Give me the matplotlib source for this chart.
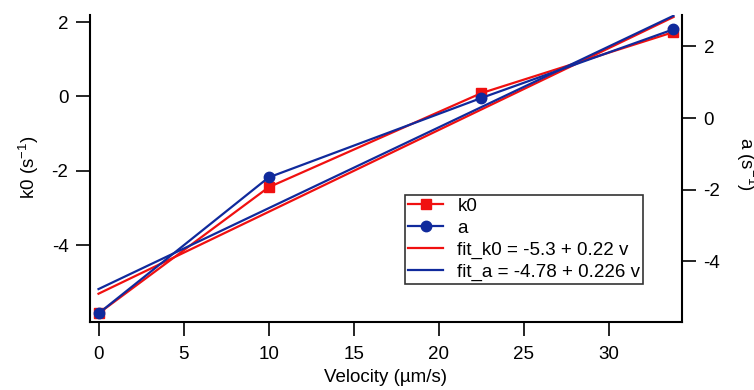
import matplotlib
matplotlib.use("Agg")
import matplotlib.pyplot as plt
import numpy as np

plt.rcParams['font.family'] = ['Liberation Sans', 'DejaVu Sans']
plt.rcParams['mathtext.fontset'] = 'custom'
plt.rcParams['mathtext.rm'] = 'Liberation Sans'
plt.rcParams['mathtext.default'] = 'regular'
plt.rcParams['axes.unicode_minus'] = False

# data
velocity = [0, 10, 22.5, 33.8]
k0 = [-5.83, -2.44, 0.09, 1.73]
a = [-5.46, -1.66, 0.56, 2.48]

fit_k0_coef = (-5.3, 0.22)
fit_a_coef = (-4.78, 0.226)

red = '#f01010'
blue = '#102a9c'
fs = 13.5

fig = plt.figure(figsize=(7.54, 3.9), dpi=100)
ax = fig.add_axes([90 / 754, 68 / 390, 592 / 754, 307 / 390])
ax2 = ax.twinx()

v_fit = np.array([velocity[0], velocity[-1]])

# left axis: k0
l1, = ax.plot(velocity, k0, color=red, lw=1.6, marker='s', ms=7.5, label='k0')
l3, = ax.plot(v_fit, fit_k0_coef[0] + fit_k0_coef[1] * v_fit, color=red, lw=1.6,
              label='fit_k0 = -5.3 + 0.22 v')

# right axis: a
l2, = ax2.plot(velocity, a, color=blue, lw=1.6, marker='o', ms=7.5, label='a')
l4, = ax2.plot(v_fit, fit_a_coef[0] + fit_a_coef[1] * v_fit, color=blue, lw=1.6,
               label='fit_a = -4.78 + 0.226 v')

ax.set_xlim(-0.5, 34.3)
ax.set_ylim(-6.06, 2.19)
ax2.set_ylim(-5.70, 2.88)

ax.set_xticks([0, 5, 10, 15, 20, 25, 30])
ax.set_yticks([-4, -2, 0, 2])
ax2.set_yticks([-4, -2, 0, 2])

for axis in (ax, ax2):
    axis.spines['top'].set_visible(False)
    for s in axis.spines.values():
        s.set_linewidth(1.5)
    axis.tick_params(direction='out', length=10, width=1.2, labelsize=fs, pad=5.5)
ax.tick_params(axis='x', pad=7.5)
ax.spines['right'].set_visible(False)
ax2.spines['left'].set_visible(False)
ax2.spines['bottom'].set_visible(False)

ax.set_xlabel('Velocity (µm/s)', fontsize=fs, labelpad=4)
ax.set_ylabel('k0 (s$^{-1}$)', fontsize=fs)
ax.yaxis.set_label_coords(-0.082, 0.505)
fig.text(734 / 754, 0.579, 'a (s$^{-1}$)', rotation=-90, fontsize=fs,
         ha='left', va='center')

leg = ax2.legend(handles=[l1, l2, l3, l4], loc='lower left',
                 bbox_to_anchor=(0.532, 0.124), borderaxespad=0, fontsize=fs,
                 frameon=True, fancybox=False, edgecolor='black',
                 handlelength=1.9, borderpad=0.15, labelspacing=0.26,
                 handletextpad=0.75)
leg.get_frame().set_linewidth(1.2)

plt.savefig('out.png', dpi=100)
plt.close()
